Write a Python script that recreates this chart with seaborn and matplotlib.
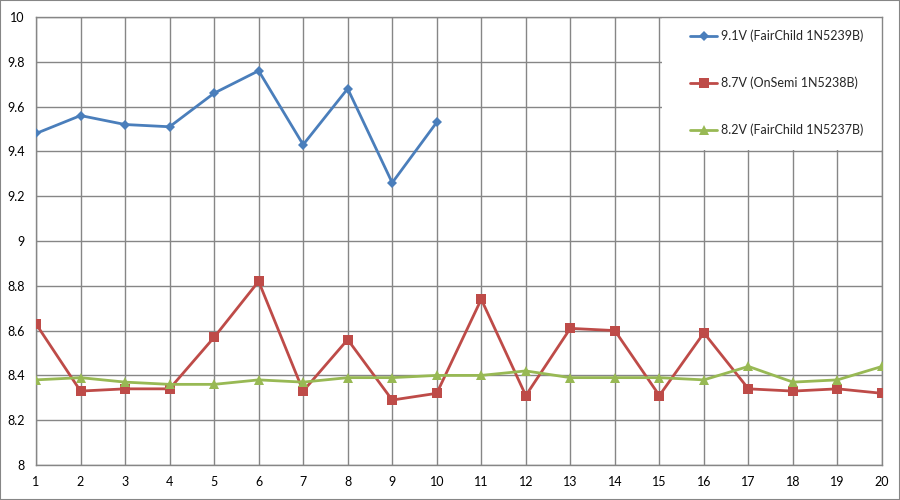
import pandas as pd
import matplotlib.pyplot as plt
import seaborn as sns
from matplotlib.patches import Rectangle

samples = list(range(1, 21))
zener_91 = [9.48, 9.56, 9.52, 9.51, 9.66, 9.76, 9.43, 9.68, 9.26, 9.53]
zener_87 = [8.63, 8.33, 8.34, 8.34, 8.57, 8.82, 8.33, 8.56, 8.29, 8.32,
            8.74, 8.31, 8.61, 8.60, 8.31, 8.59, 8.34, 8.33, 8.34, 8.32]
zener_82 = [8.38, 8.39, 8.37, 8.36, 8.36, 8.38, 8.37, 8.39, 8.39, 8.40,
            8.40, 8.42, 8.39, 8.39, 8.39, 8.38, 8.44, 8.37, 8.38, 8.44]
labels = ['9.1V (FairChild 1N5239B)', '8.7V (OnSemi 1N5238B)', '8.2V (FairChild 1N5237B)']
y_ticks = [8, 8.2, 8.4, 8.6, 8.8, 9, 9.2, 9.4, 9.6, 9.8, 10]

rows = []
for label, vals in zip(labels, [zener_91, zener_87, zener_82]):
    for x, v in zip(samples, vals):
        rows.append({'sample': x, 'voltage': v, 'series': label})
df = pd.DataFrame(rows)

sns.set_theme(style="white")
plt.rcParams['font.family'] = ['Lato', 'DejaVu Sans']

fig = plt.figure(figsize=(9, 5), dpi=100)
ax = fig.add_axes([36 / 900, 35 / 500, 846 / 900, 448 / 500])

colors = ['#4A7EBB', '#BE4B48', '#98B954']
sns.lineplot(data=df, x='sample', y='voltage', hue='series', style='series',
             hue_order=labels, style_order=labels, palette=colors,
             markers=['D', 's', '^'], dashes=False, linewidth=2,
             markersize=8, markeredgewidth=0, ax=ax, zorder=3)

# per-series marker sizes (diamond drawn smaller, like the original)
for line, ms in zip(ax.lines[:3], [5.2, 7.5, 7.5]):
    line.set_markersize(ms)

ax.set_xlim(1, 20)
ax.set_ylim(8, 10)
ax.set_xticks(samples)
ax.set_xticklabels([str(s) for s in samples])
ax.set_yticks(y_ticks)
ax.set_yticklabels(['8', '8.2', '8.4', '8.6', '8.8', '9', '9.2', '9.4', '9.6', '9.8', '10'])
ax.tick_params(axis='both', labelsize=9, colors='#000000', length=0, pad=8)
ax.set_xlabel('')
ax.set_ylabel('')
ax.grid(True, color='#868686', linewidth=1)
for sp in ax.spines.values():
    sp.set_color('#868686')
    sp.set_linewidth(1)

# white legend area hiding the grid in the top right corner
ax.add_patch(Rectangle((0.740, 0.703), 0.26, 0.297, transform=ax.transAxes,
                       facecolor='white', edgecolor='none', zorder=1))

leg = ax.legend(loc='upper left', bbox_to_anchor=(0.773, 0.972), fontsize=9,
                frameon=False, borderpad=0, labelspacing=2.75,
                handlelength=2.2, handletextpad=0.3, borderaxespad=0)
for h, ms in zip(leg.get_lines(), [4.8, 6.5, 6.5]):
    h.set_markersize(ms)

fig.patches.append(Rectangle((0, 0), 1, 1, transform=fig.transFigure, fill=False,
                             edgecolor='#868686', linewidth=1.5))

fig.savefig('out.png', dpi=100)
